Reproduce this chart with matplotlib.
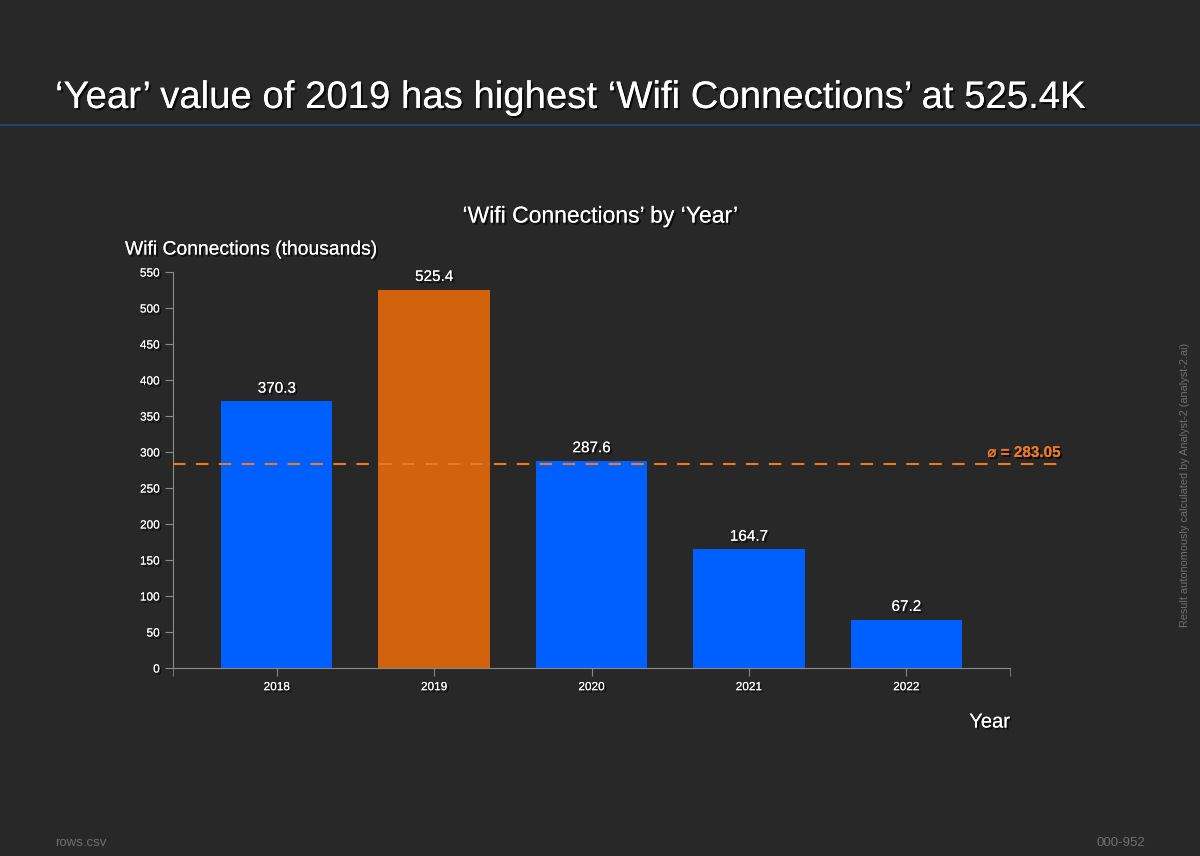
import matplotlib
matplotlib.use("Agg")
import matplotlib.pyplot as plt
import matplotlib.patheffects as pe
import numpy as np

# data
years = ["2018", "2019", "2020", "2021", "2022"]
wifi = [370.3, 525.4, 287.6, 164.7, 67.2]
highlight = "2019"
avg_value = 283.05
y_ticks = [0, 50, 100, 150, 200, 250, 300, 350, 400, 450, 500, 550]

BG = "#282828"
BLUE = "#0060FF"
ORANGE = "#D2620C"
MEAN_C = "#F07820"
AXIS_C = "#8a8a8a"

plt.rcParams['font.family'] = ['Liberation Sans', 'DejaVu Sans']

fig = plt.figure(figsize=(12, 8.56), dpi=100)
fig.patch.set_facecolor(BG)

shadow = [pe.withSimplePatchShadow(offset=(1.5, -1.5), shadow_rgbFace="black", alpha=0.7), pe.Normal()]

# header
fig.text(55 / 1200, 1 - 108 / 856, "‘Year’ value of 2019 has highest ‘Wifi Connections’ at 525.4K",
         color="white", fontsize=27.6, ha="left", va="baseline", path_effects=shadow)
fig.add_artist(plt.Line2D([0, 1], [1 - 125 / 856] * 2, color="#1f4a80", lw=1.2))

ax = fig.add_axes([173 / 1200, 1 - 668 / 856, 837 / 1200, 396 / 856])
ax.set_facecolor("none")

x = np.arange(len(years))
colors = [ORANGE if y == highlight else BLUE for y in years]
ax.bar(x, wifi, width=0.707, color=colors, zorder=2)
for xi, v in zip(x, wifi):
    ax.text(xi, v + 8, f"{v:.1f}", ha="center", va="bottom", color="white", fontsize=11, path_effects=shadow)

pad = 25 / 157
ax.set_xlim(-0.5 - pad, len(years) - 0.5 + pad)
ax.set_ylim(0, 550)
ax.set_xticks(x)
ax.set_xticklabels(years)
ax.set_xticks([-0.5 - pad, len(years) - 0.5 + pad], minor=True)
ax.set_yticks(y_ticks)

for s in ["top", "right"]:
    ax.spines[s].set_visible(False)
for s in ["left", "bottom"]:
    ax.spines[s].set_color(AXIS_C)
ax.tick_params(axis="both", which="both", colors=AXIS_C, labelcolor="white", labelsize=8.5, length=6)
for lab in ax.get_xticklabels() + ax.get_yticklabels():
    lab.set_path_effects(shadow)

ax.plot([-0.5 - pad, 5.01], [avg_value, avg_value], ls=(0, (6, 5)), color=MEAN_C, lw=1.5, clip_on=False, zorder=3)
ax.text(4.98, avg_value + 6, f"⌀ = {avg_value:.2f}", ha="right", va="bottom", color=MEAN_C, fontsize=11,
        fontweight="bold", path_effects=shadow)

fig.text(600 / 1200, 1 - 216 / 856, "‘Wifi Connections’ by ‘Year’", color="white", fontsize=16.5,
         ha="center", va="center", path_effects=shadow)
fig.text(125 / 1200, 1 - 250 / 856, "Wifi Connections (thousands)", color="white", fontsize=13.9,
         ha="left", va="center", path_effects=shadow)
fig.text(1010 / 1200, 1 - 722 / 856, "Year", color="white", fontsize=14.5,
         ha="right", va="center", path_effects=shadow)

fig.text(1185 / 1200, 1 - 485 / 856, "Result autonomously calculated by Analyst-2 (analyst-2.ai)",
         color="#707070", fontsize=7.8, rotation=90, ha="center", va="center")
fig.text(55 / 1200, 1 - 843 / 856, "rows.csv", color="#707070", fontsize=9.5, ha="left", va="center")
fig.text(1145 / 1200, 1 - 843 / 856, "000-952", color="#707070", fontsize=9.5, ha="right", va="center")

fig.savefig("out.png", dpi=100, facecolor=fig.get_facecolor())
